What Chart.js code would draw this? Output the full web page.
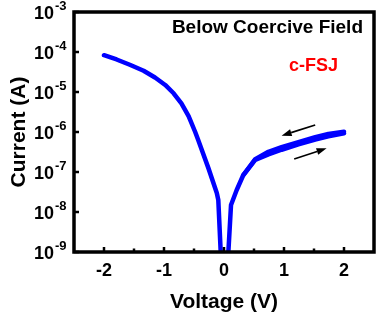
<!DOCTYPE html>
<html>
<head>
<meta charset="utf-8">
<script src="https://cdn.jsdelivr.net/npm/chart.js@4.4.1/dist/chart.umd.min.js"></script>
<style>
  html, body { margin: 0; padding: 0; background: #fff; }
  #wrap { width: 379px; height: 321px; }
</style>
</head>
<body>
<div id="wrap"><canvas id="iv"></canvas></div>
<script>
// I-V sweep, -2 V -> +2 V (current dips below 1e-9 A around 0 V)
const vForward = [-2.0, -1.79, -1.57, -1.34, -1.15, -0.98, -0.84, -0.71, -0.59, -0.48, -0.43, -0.26, -0.12, -0.095, -0.024,
                  0.035, 0.117, 0.21, 0.32, 0.52, 0.74, 0.96, 1.24, 1.52, 1.74, 2.0];
const iForward = [8.3e-5, 6.5e-5, 4.8e-5, 3.4e-5, 2.3e-5, 1.5e-5, 9.3e-6, 5.2e-6, 2.5e-6, 1.0e-6, 6.3e-7, 1.25e-7, 3.0e-8, 2.0e-8, 1e-10,
                  1e-10, 1.5e-8, 3.5e-8, 8.3e-8, 2.0e-7, 2.75e-7, 3.6e-7, 4.9e-7, 6.5e-7, 7.8e-7, 9.3e-7];

// return branch, +2 V back down (sits a little above the forward one)
const vReturn = [0.32, 0.52, 0.74, 0.96, 1.24, 1.52, 1.74, 2.0];
const iReturn = [8.3e-8, 2.1e-7, 3.2e-7, 4.2e-7, 5.6e-7, 7.4e-7, 8.9e-7, 1.02e-6];

// sweep direction arrows (tail -> tip)
const arrowTailV = [1.52, 1.17];
const arrowTailI = [1.5e-6, 2.1e-7];
const arrowTipV = [0.96, 1.71];
const arrowTipI = [8.1e-7, 3.9e-7];

const xMajor = [-2, -1, 0, 1, 2];
const xMinor = [-1.5, -0.5, 0.5, 1.5];
const yExponents = [-9, -8, -7, -6, -5, -4, -3];

const FONT = 'Arial, "Liberation Sans", Helvetica, sans-serif';
const BLUE = 'rgb(0, 0, 255)';

const toPoints = (xs, ys) => xs.map((v, i) => ({ x: v, y: ys[i] }));

// frame, inward ticks, decade labels with superscripts, arrows, notes
const decor = {
  id: 'decor',
  afterDatasetsDraw(chart) {
    const { ctx, chartArea: a, scales: { x, y } } = chart;
    ctx.save();
    ctx.strokeStyle = '#000';
    ctx.lineCap = 'butt';

    ctx.lineWidth = 2.5;
    xMajor.forEach(v => {
      const px = x.getPixelForValue(v);
      ctx.beginPath(); ctx.moveTo(px, a.bottom); ctx.lineTo(px, a.bottom - 5); ctx.stroke();
    });
    xMinor.forEach(v => {
      const px = x.getPixelForValue(v);
      ctx.beginPath(); ctx.moveTo(px, a.bottom); ctx.lineTo(px, a.bottom - 3.5); ctx.stroke();
    });
    yExponents.forEach(e => {
      const py = y.getPixelForValue(Math.pow(10, e));
      ctx.beginPath(); ctx.moveTo(a.left, py); ctx.lineTo(a.left + 5, py); ctx.stroke();
    });

    ctx.lineWidth = 3.5;
    ctx.strokeRect(a.left, a.top, a.right - a.left, a.bottom - a.top);

    // arrows
    ctx.fillStyle = '#000';
    ctx.lineWidth = 1.6;
    arrowTailV.forEach((v, i) => {
      const x0 = x.getPixelForValue(v), y0 = y.getPixelForValue(arrowTailI[i]);
      const x1 = x.getPixelForValue(arrowTipV[i]), y1 = y.getPixelForValue(arrowTipI[i]);
      const ang = Math.atan2(y1 - y0, x1 - x0);
      const hl = 10, hw = 3.5;
      const bx = x1 - hl * Math.cos(ang), by = y1 - hl * Math.sin(ang);
      ctx.beginPath(); ctx.moveTo(x0, y0); ctx.lineTo(bx, by); ctx.stroke();
      ctx.beginPath();
      ctx.moveTo(x1, y1);
      ctx.lineTo(bx + hw * Math.sin(ang), by - hw * Math.cos(ang));
      ctx.lineTo(bx - hw * Math.sin(ang), by + hw * Math.cos(ang));
      ctx.closePath(); ctx.fill();
    });

    ctx.textBaseline = 'middle';
    ctx.textAlign = 'right';
    ctx.fillStyle = '#000';
    ctx.font = 'bold 19px ' + FONT;
    ctx.fillText('Below Coercive Field', a.right - 11, a.top + 16);
    ctx.fillStyle = 'rgb(255, 0, 0)';
    ctx.font = 'bold 18px ' + FONT;
    ctx.fillText('c-FSJ', a.right - 36, a.top + 54);
    ctx.restore();
  },
  afterDraw(chart) {
    const { ctx, chartArea: a, scales: { y } } = chart;
    ctx.save();
    ctx.fillStyle = '#000';
    ctx.textBaseline = 'middle';
    const split = a.left - 20;
    yExponents.forEach(e => {
      const py = y.getPixelForValue(Math.pow(10, e));
      ctx.font = 'bold 18px ' + FONT;
      ctx.textAlign = 'right';
      ctx.fillText('10', split, py + 2);
      ctx.font = 'bold 13px ' + FONT;
      ctx.textAlign = 'left';
      ctx.fillText('-' + Math.abs(e), split + 1, py - 6);
    });
    ctx.restore();
  }
};

const lineStyle = {
  borderColor: BLUE,
  borderWidth: 4.5,
  pointRadius: 0,
  tension: 0,
  borderJoinStyle: 'round',
  borderCapStyle: 'round',
  clip: 0,
};

new Chart(document.getElementById('iv'), {
  type: 'line',
  data: {
    datasets: [
      { data: toPoints(vForward, iForward), ...lineStyle },
      { data: toPoints(vReturn, iReturn), ...lineStyle },
    ],
  },
  options: {
    responsive: true,
    maintainAspectRatio: false,
    animation: false,
    layout: { padding: { top: 12, right: 5, left: 0, bottom: 0 } },
    plugins: { legend: { display: false }, tooltip: { enabled: false } },
    scales: {
      x: {
        type: 'linear',
        min: -2.5,
        max: 2.5,
        grid: { display: false, drawTicks: false },
        border: { display: false },
        afterBuildTicks: scale => { scale.ticks = xMajor.map(v => ({ value: v })); },
        ticks: {
          autoSkip: false,
          maxRotation: 0,
          padding: 8,
          color: '#000',
          font: { family: FONT, size: 18, weight: 'bold' },
          callback: v => String(v),
        },
        title: {
          display: true,
          text: 'Voltage (V)',
          color: '#000',
          font: { family: FONT, size: 21, weight: 'bold' },
          padding: { top: 0, bottom: 6 },
        },
        afterFit: scale => { scale.height = 69; },
      },
      y: {
        type: 'logarithmic',
        min: 1e-9,
        max: 1e-3,
        grid: { display: false, drawTicks: false },
        border: { display: false },
        ticks: { display: false },
        title: {
          display: true,
          text: 'Current (A)',
          color: '#000',
          font: { family: FONT, size: 21, weight: 'bold' },
          padding: { top: 7, bottom: 0 },
        },
        afterFit: scale => { scale.width = 74; },
      },
    },
  },
  plugins: [decor],
});
</script>
</body>
</html>
